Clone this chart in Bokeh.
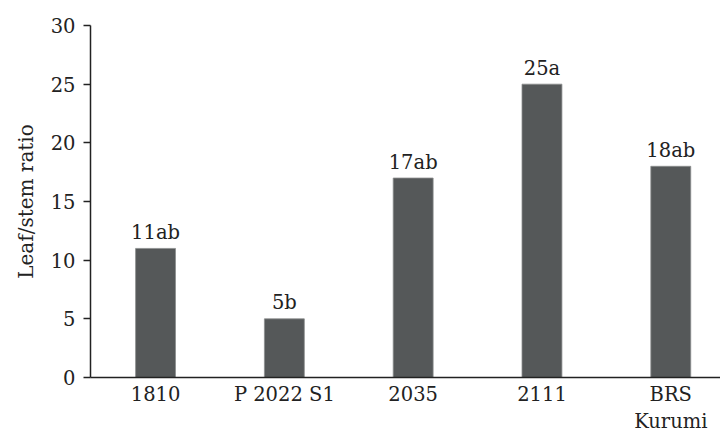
from bokeh.plotting import figure
from bokeh.models import ColumnDataSource, Range1d, FixedTicker, Title
from bokeh.core.properties import value
from bokeh.embed import file_html
from bokeh.resources import INLINE

categories = ["1810", "P 2022 S1", "2035", "2111", "BRS\nKurumi"]
ratios = [11, 5, 17, 25, 18]
letters = ["11ab", "5b", "17ab", "25a", "18ab"]
y_ticks = [0, 5, 10, 15, 20, 25, 30]
y_title = "Leaf/stem ratio"

FONT = "DejaVu Serif"
FS = "19.5px"
TXT = "#222222"

xs = list(range(len(categories)))
src = ColumnDataSource(dict(x=xs, top=ratios, lab=letters))

p = figure(width=720, height=436, output_backend="svg", toolbar_location=None,
           x_range=Range1d(-0.505, 4.386), y_range=Range1d(0, 30),
           min_border_left=90, min_border_right=0, min_border_top=25, min_border_bottom=59)
p.outline_line_color = None
p.xgrid.visible = False
p.ygrid.visible = False

p.vbar(x="x", top="top", width=0.31, bottom=0, source=src,
       fill_color="#555859", line_color="#8c8e8e", line_width=0.8)
p.text(x="x", y="top", text="lab", source=src, text_font=value(FONT),
       text_font_size=FS, text_align="center", text_baseline="alphabetic",
       y_offset=-16, text_color=TXT)

p.xaxis.ticker = FixedTicker(ticks=xs)
p.xaxis.major_label_overrides = {i: c for i, c in enumerate(categories)}
p.xaxis.major_tick_out = 0
p.xaxis.major_tick_in = 0
p.xaxis.minor_tick_line_color = None
p.xaxis.major_label_standoff = 5
p.xaxis.major_label_text_line_height = 1.2

p.yaxis.ticker = FixedTicker(ticks=y_ticks)
p.yaxis.major_tick_out = 7
p.yaxis.major_tick_in = 0
p.yaxis.minor_tick_line_color = None
p.yaxis.major_label_standoff = 8

for ax in (p.xaxis, p.yaxis):
    ax.axis_line_color = "#222222"
    ax.axis_line_width = 1.5
    ax.major_tick_line_color = "#222222"
    ax.major_tick_line_width = 1.5
    ax.major_label_text_font = FONT
    ax.major_label_text_font_size = FS
    ax.major_label_text_color = TXT

ytitle = Title(text=y_title, align="center", text_font=FONT,
               text_font_size="20px", text_font_style="normal",
               text_color=TXT, standoff=20, offset=-6)
p.add_layout(ytitle, "left")

open("out.html", "w").write(file_html(p, INLINE))
